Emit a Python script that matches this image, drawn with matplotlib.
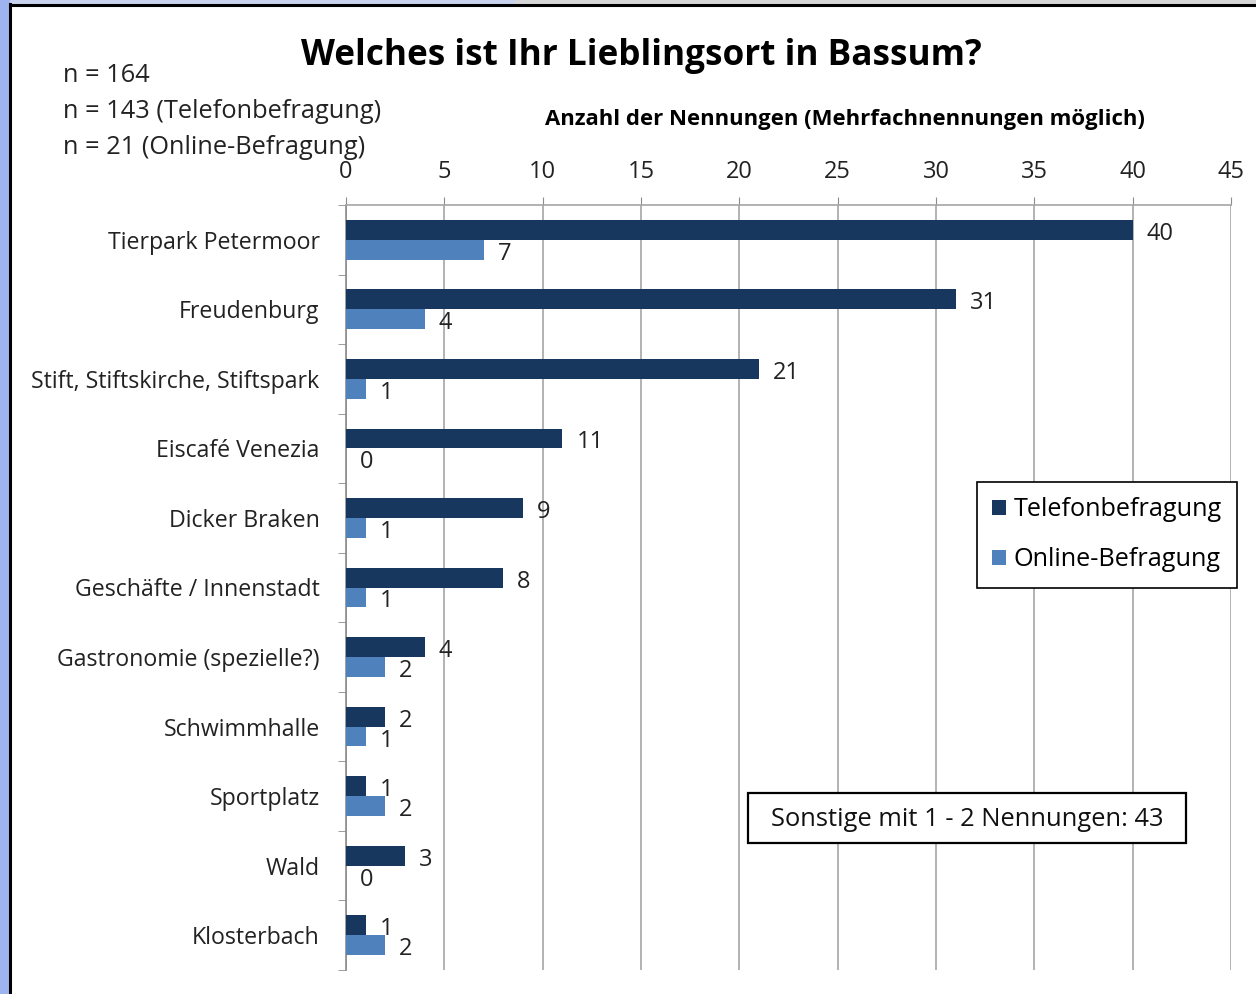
import matplotlib
matplotlib.use("Agg")
import matplotlib.pyplot as plt
from matplotlib.patches import Rectangle
from matplotlib.lines import Line2D
import numpy as np

categories = ["Tierpark Petermoor", "Freudenburg", "Stift, Stiftskirche, Stiftspark",
              "Eiscafé Venezia", "Dicker Braken", "Geschäfte / Innenstadt",
              "Gastronomie (spezielle?)", "Schwimmhalle", "Sportplatz", "Wald", "Klosterbach"]
telefon = [40, 31, 21, 11, 9, 8, 4, 2, 1, 3, 1]
online = [7, 4, 1, 0, 1, 1, 2, 1, 2, 0, 2]
series_names = ["Telefonbefragung", "Online-Befragung"]
x_ticks = [0, 5, 10, 15, 20, 25, 30, 35, 40, 45]

DARK = "#17375E"
LIGHT = "#4F81BD"
FONT = ["Open Sans", "DejaVu Sans"]
plt.rcParams["font.family"] = FONT

W, H = 1256, 994
fig = plt.figure(figsize=(W / 100, H / 100), dpi=100)
fig.patch.set_facecolor("white")

def fx(px):
    return px / W

def fy(py):
    return 1 - py / H

# frame decorations
fig.add_artist(Rectangle((0, fy(4)), 1, 4 / H, transform=fig.transFigure, color="#c9d3ee", zorder=0))
fig.add_artist(Rectangle((fx(515), fy(4)), 1 - fx(515), 4 / H, transform=fig.transFigure, color="#d6d6d6", zorder=0))
fig.add_artist(Rectangle((0, 0), fx(9), 1, transform=fig.transFigure, color="#9db4f0", zorder=0))
fig.add_artist(Line2D([fx(10), fx(10)], [0, fy(4)], transform=fig.transFigure, color="black", lw=2.2))
fig.add_artist(Line2D([fx(10), 1], [fy(5), fy(5)], transform=fig.transFigure, color="black", lw=2.2))

left, right, top, bottom = 346, 1231, 205, 970
ax = fig.add_axes([fx(left), fy(bottom), fx(right) - fx(left), (bottom - top) / H])

n = len(categories)
y = np.arange(n)
h = 0.286
ax.barh(y - h / 2, telefon, height=h, color=DARK, label=series_names[0], zorder=3)
ax.barh(y + h / 2, online, height=h, color=LIGHT, label=series_names[1], zorder=3)

for yi, v in zip(y - h / 2, telefon):
    ax.annotate(str(v), (v, yi), xytext=(14, -1), textcoords="offset pixels",
                ha="left", va="center_baseline", fontsize=17, color="#222222")
for yi, v in zip(y + h / 2, online):
    ax.annotate(str(v), (v, yi), xytext=(14, -1), textcoords="offset pixels",
                ha="left", va="center_baseline", fontsize=17, color="#222222")

ax.set_xlim(0, 45)
ax.set_ylim(n - 0.5, -0.5)
ax.set_xticks(x_ticks)
ax.xaxis.tick_top()
ax.tick_params(axis="x", direction="out", length=6, color="#8c8c8c", labelsize=17, pad=9, labelcolor="#222222")
ax.grid(axis="x", color="#a6a6a6", lw=1.2, zorder=0)

ax.set_yticks(y)
ax.set_yticklabels(categories)
ax.set_yticks(np.arange(-0.5, n, 1), minor=True)
ax.tick_params(axis="y", which="major", length=0, labelsize=16.7, pad=19, labelcolor="#222222")
ax.tick_params(axis="y", which="minor", length=6, color="#8c8c8c", direction="out")

for s in ["right", "bottom"]:
    ax.spines[s].set_visible(False)
ax.spines["left"].set_color("#8c8c8c")
ax.spines["top"].set_color("#a6a6a6")
ax.spines["left"].set_linewidth(1.2)
ax.spines["top"].set_linewidth(1.2)

leg = ax.legend(loc="upper left", bbox_to_anchor=((977 - left) / (right - left), (bottom - 482) / (bottom - top)),
                fontsize=18.2, frameon=True, fancybox=False, edgecolor="black", handlelength=0.55,
                handleheight=0.55, handletextpad=0.3, labelspacing=1.0, borderpad=0.6, borderaxespad=0,
                framealpha=1)
leg.get_frame().set_linewidth(1.2)

fig.text(fx(641), fy(56), "Welches ist Ihr Lieblingsort in Bassum?", ha="center", va="center",
         fontsize=25.3, fontweight="bold", color="black")
fig.text(fx(845), fy(119), "Anzahl der Nennungen (Mehrfachnennungen möglich)", ha="center", va="center",
         fontsize=15.9, fontweight="bold", color="black")
for yy, t in zip([75, 111, 147], ["n = 164", "n = 143 (Telefonbefragung)", "n = 21 (Online-Befragung)"]):
    fig.text(fx(63), fy(yy), t, ha="left", va="center", fontsize=18.3, color="#222222")

# "Sonstige" note box
fig.add_artist(Rectangle((fx(748), fy(843)), fx(1186) - fx(748), (843 - 793) / H,
                         transform=fig.transFigure, facecolor="white", edgecolor="black", lw=1.6, zorder=5))
fig.text(fx(967), fy(820), "Sonstige mit 1 - 2 Nennungen: 43", ha="center", va="center",
         fontsize=18.4, color="#111111", zorder=6)

fig.savefig("out.png", dpi=100)
